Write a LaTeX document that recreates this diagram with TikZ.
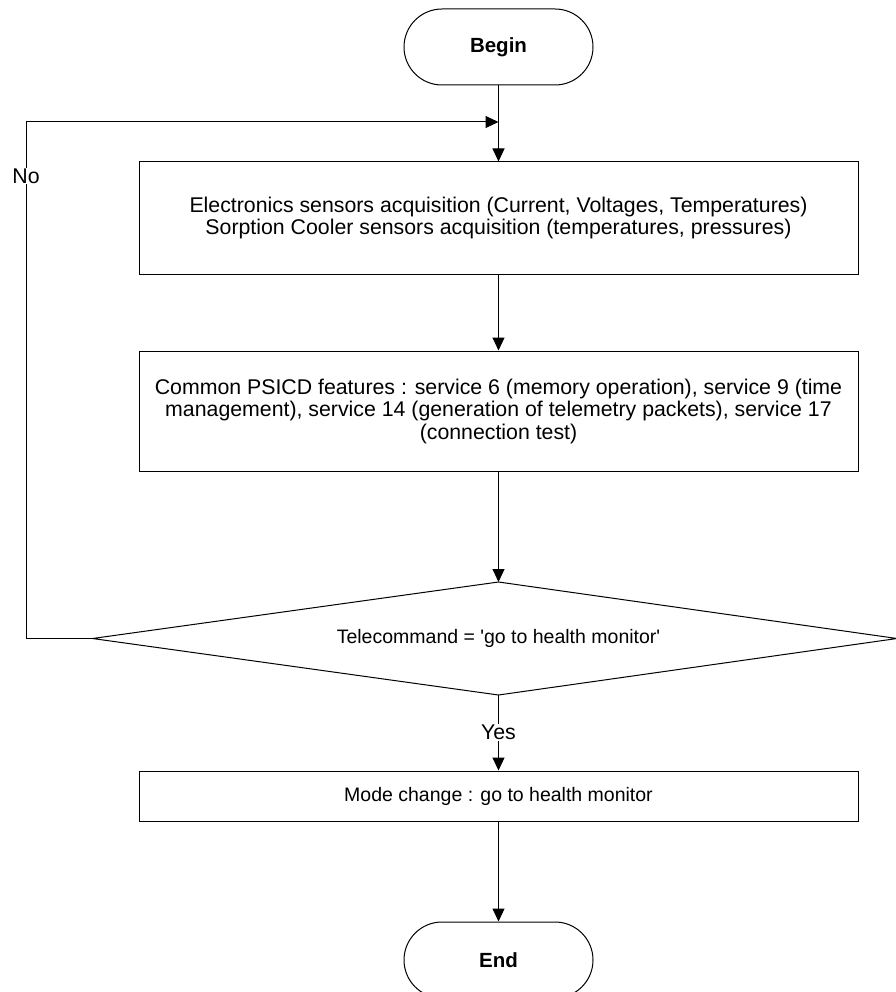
\documentclass[tikz,border=0pt]{standalone}
\usepackage{fontspec}
\setmainfont{Liberation Sans}
\usetikzlibrary{arrows.meta}
\begin{document}
\begin{tikzpicture}[x=1pt,y=-1pt,
  line width=1pt,
  every node/.style={font=\fontsize{21.3}{22.5}\selectfont},
  smalltext/.style={font=\fontsize{19.5}{22}\selectfont},
  terminal/.style={draw, rounded corners=38pt, minimum width=189pt, minimum height=76pt, inner sep=0pt, font=\fontsize{20.5}{24}\selectfont\bfseries},
  procbox/.style={draw, minimum width=719pt, inner sep=0pt, align=center},
  flow/.style={-{Triangle[length=13pt,width=12pt]}},
  lbl/.style={fill=white, inner sep=1pt}
]
\useasboundingbox (0,0) rectangle (895,992);
\node[terminal] (begin) at (498.5,47) {Begin};
\node[procbox, minimum height=112pt] (b1) at (498.5,218) {Electronics sensors acquisition (Current, Voltages, Temperatures)\\Sorption Cooler sensors acquisition (temperatures, pressures)};
\node[procbox, minimum height=120pt] (b2) at (498.5,411) {Common PSICD features : service 6 (memory operation), service 9 (time\\management), service 14 (generation of telemetry packets), service 17\\(connection test)};
\coordinate (dtop) at (498.5,582);
\coordinate (dright) at (897,638.5);
\coordinate (dbot) at (498.5,695);
\coordinate (dleft) at (92.5,638.5);
\draw (dleft) -- (dtop) -- (dright) -- (dbot) -- cycle;
\node[smalltext] (dtext) at (498.5,638.5) {Telecommand = \textquotesingle go to health monitor\textquotesingle};
\node[procbox, smalltext, minimum height=50pt] (b3) at (498.5,796) {Mode change : go to health monitor};
\node[terminal] (end) at (498.5,960) {End};
\coordinate (join) at (498.5,122);
\coordinate (cl) at (26,638.5);
\coordinate (tl) at (26,122);
\draw (begin.south) -- (join);
\draw[flow] (join) -- (b1.north);
\draw[flow] (b1.south) -- (b2.north);
\draw[flow] (b2.south) -- (dtop);
\draw[flow] (dbot) -- node[lbl, pos=0.5] (yes) {Yes} (b3.north);
\draw[flow] (b3.south) -- (end.north);
\draw[flow] (dleft) -- (cl) -- (tl) -- (join);
\node[lbl] (no) at (26,176) {No};
\end{tikzpicture}
\end{document}
